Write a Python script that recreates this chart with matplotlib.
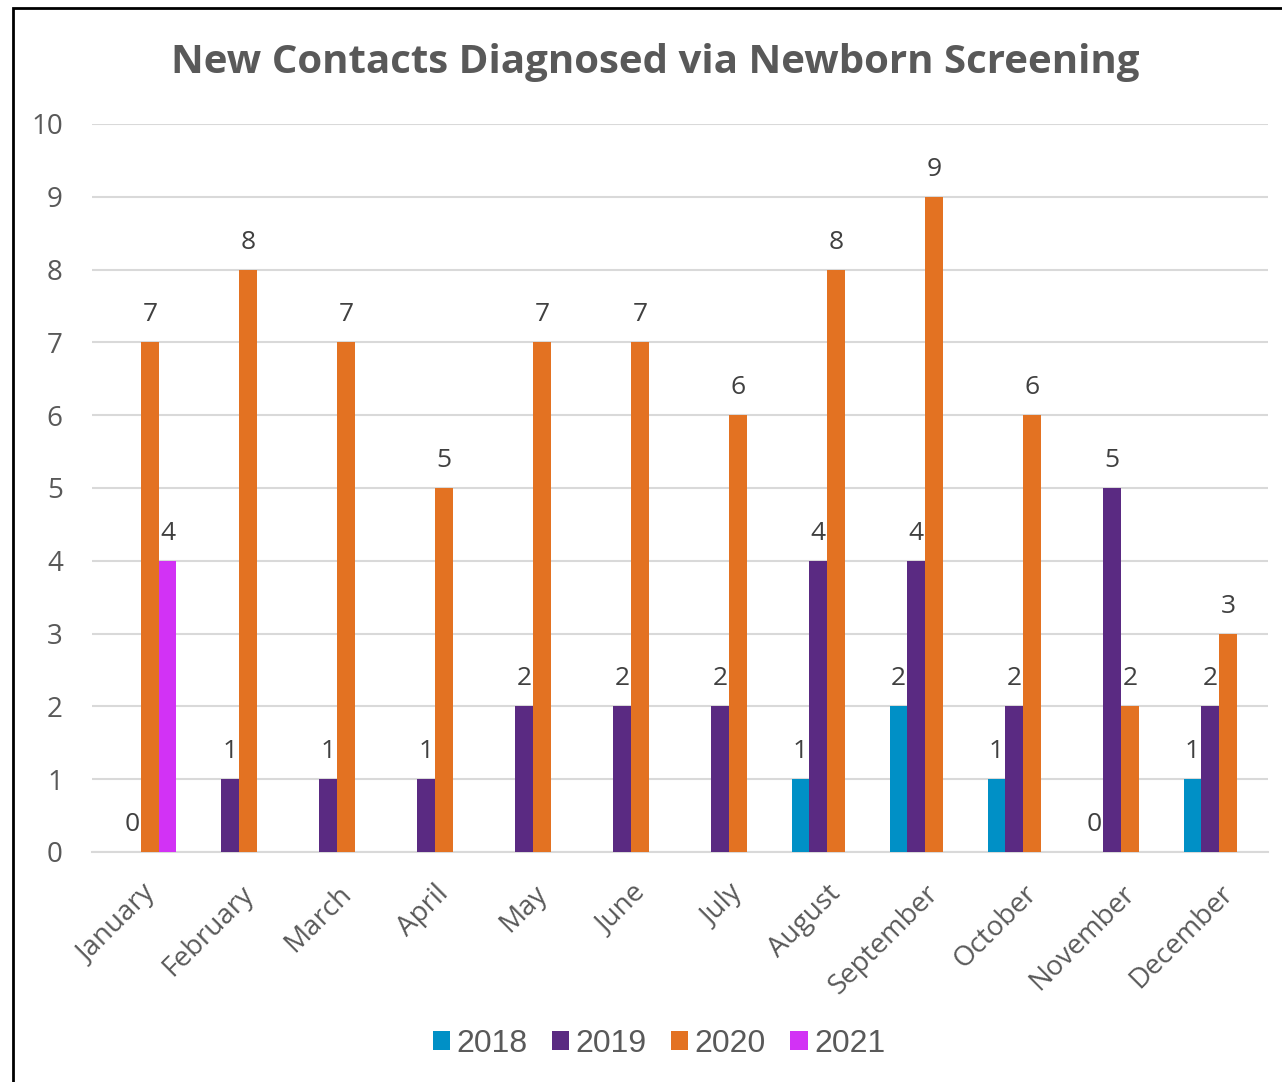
import numpy as np
import matplotlib
matplotlib.use("Agg")
import matplotlib.pyplot as plt
import matplotlib.transforms as mtransforms
from matplotlib.patches import Rectangle

months = ["January", "February", "March", "April", "May", "June", "July",
          "August", "September", "October", "November", "December"]
nan = np.nan
y2018 = [nan, nan, nan, nan, nan, nan, nan, 1, 2, 1, 0, 1]
y2019 = [0, 1, 1, 1, 2, 2, 2, 4, 4, 2, 5, 2]
y2020 = [7, 8, 7, 5, 7, 7, 6, 8, 9, 6, 2, 3]
y2021 = [4, nan, nan, nan, nan, nan, nan, nan, nan, nan, nan, nan]
series = ["2018", "2019", "2020", "2021"]
colors = ["#0090C6", "#5A2A82", "#E37222", "#D232F5"]

txt = "#595959"
fig = plt.figure(figsize=(12.82, 10.82), dpi=100)
ax = fig.add_axes([92/1282, 1-852/1082, (1268-92)/1282, (852-124)/1082])

x = np.arange(len(months))
w = 0.18
data = [y2018, y2019, y2020, y2021]
for i, (vals, name, c) in enumerate(zip(data, series, colors)):
    pos = x + (i - 1.5) * w
    ax.bar(pos, vals, width=w, color=c, label=name, zorder=3)
    for px, v in zip(pos, vals):
        if not np.isnan(v):
            ax.annotate(f"{int(v)}", (px, v), xytext=(0, 15), textcoords="offset pixels",
                        ha="center", va="bottom", fontsize=19, color="#404040",
                        family="Open Sans", zorder=4)

ax.set_xlim(-0.5, 11.5)
ax.set_ylim(0, 10)
ax.set_yticks(range(0, 11))
ax.yaxis.grid(True, color="#D9D9D9", lw=1.5, zorder=0)
for s in ["top", "right", "left"]:
    ax.spines[s].set_visible(False)
ax.spines["bottom"].set_color("#D9D9D9")
ax.spines["bottom"].set_linewidth(1.5)
ax.tick_params(axis="both", length=0, labelsize=20, labelcolor=txt)
ax.tick_params(axis="y", pad=21)
ax.set_xticks(x)
ax.set_xticklabels(months, rotation=45, ha="right", rotation_mode="anchor",
                   family="Open Sans", fontsize=20)
shift = mtransforms.ScaledTranslation(-6/100, -1/100, fig.dpi_scale_trans)
for t in ax.get_xticklabels():
    t.set_transform(t.get_transform() + shift)
for t in ax.get_yticklabels():
    t.set_family("Open Sans")
ax.tick_params(axis="x", pad=20)

fig.text(655/1282, 1-62/1082, "New Contacts Diagnosed via Newborn Screening",
         ha="center", va="center", fontsize=29, fontweight="bold", color=txt,
         family="Open Sans")

fig.legend(loc="center", bbox_to_anchor=(659/1282, 1-1044/1082), ncol=4,
           frameon=False, handlelength=0.55, handleheight=0.55,
           handletextpad=0.2, columnspacing=0.75, labelcolor=txt,
           prop={"family": "Liberation Sans", "size": 23})

fig.patches.append(Rectangle((13/1282, -0.1), 1.2, 1 - 8/1082 + 0.1, fill=False,
                             edgecolor="black", lw=2, transform=fig.transFigure))

fig.savefig("out.png", dpi=100)
